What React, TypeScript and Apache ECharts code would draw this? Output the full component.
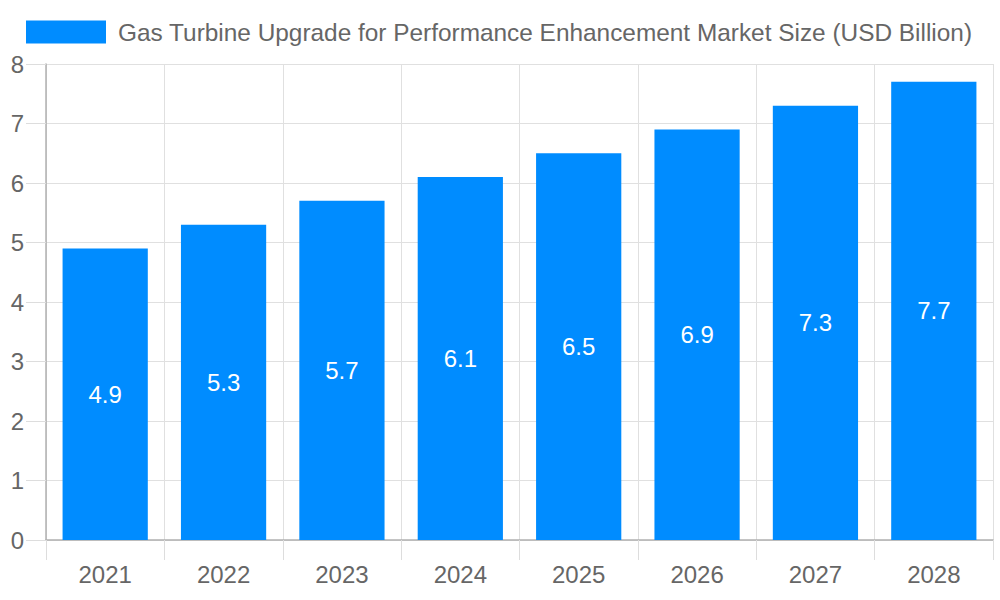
import React, { useEffect, useRef } from 'react';
import * as echarts from 'echarts';

const years = ['2021', '2022', '2023', '2024', '2025', '2026', '2027', '2028'];
const marketSize = [4.9, 5.3, 5.7, 6.1, 6.5, 6.9, 7.3, 7.7];
const seriesName = 'Gas Turbine Upgrade for Performance Enhancement Market Size (USD Billion)';

const App: React.FC = () => {
  const chartRef = useRef<HTMLDivElement | null>(null);

  useEffect(() => {
    if (!chartRef.current) return;
    const chart = echarts.init(chartRef.current, undefined, { renderer: 'svg' });
    const font = '"Liberation Sans", Arial, sans-serif';

    chart.setOption({
      animation: false,
      textStyle: { fontFamily: font },
      legend: {
        left: 26,
        top: 20,
        padding: 0,
        itemWidth: 80,
        itemHeight: 23,
        icon: 'rect',
        textStyle: { fontSize: 24.4, color: '#666', fontFamily: font, padding: [0, 0, 0, 7] },
        data: [seriesName],
      },
      grid: { left: 46, right: 7, top: 64, bottom: 60, containLabel: false },
      xAxis: {
        type: 'category',
        data: years,
        axisLine: { show: true, lineStyle: { color: '#b0b0b0', width: 1.5 } },
        axisTick: { show: true, length: 20, lineStyle: { color: '#dddddd' } },
        splitLine: { show: true, lineStyle: { color: '#e0e0e0' } },
        axisLabel: { color: '#666', fontSize: 24, margin: 22, fontFamily: font },
      },
      yAxis: {
        type: 'value',
        min: 0,
        max: 8,
        interval: 1,
        axisLine: { show: true, lineStyle: { color: '#b0b0b0', width: 1.5 } },
        axisTick: { show: true, length: 20, lineStyle: { color: '#dddddd' } },
        splitLine: { show: true, lineStyle: { color: '#e0e0e0' } },
        axisLabel: { color: '#666', fontSize: 24, margin: 22, fontFamily: font },
      },
      series: [
        {
          name: seriesName,
          type: 'bar',
          data: marketSize,
          barCategoryGap: '28%',
          itemStyle: { color: '#008cff' },
          label: {
            show: true,
            position: 'inside',
            color: '#fff',
            fontSize: 24,
            fontFamily: font,
          },
        },
      ],
    });

    return () => {
      chart.dispose();
    };
  }, []);

  return (
    <div
      ref={chartRef}
      style={{ position: 'fixed', left: 0, top: 0, width: '1000px', height: '600px', background: '#fff' }}
    />
  );
};

export default App;
